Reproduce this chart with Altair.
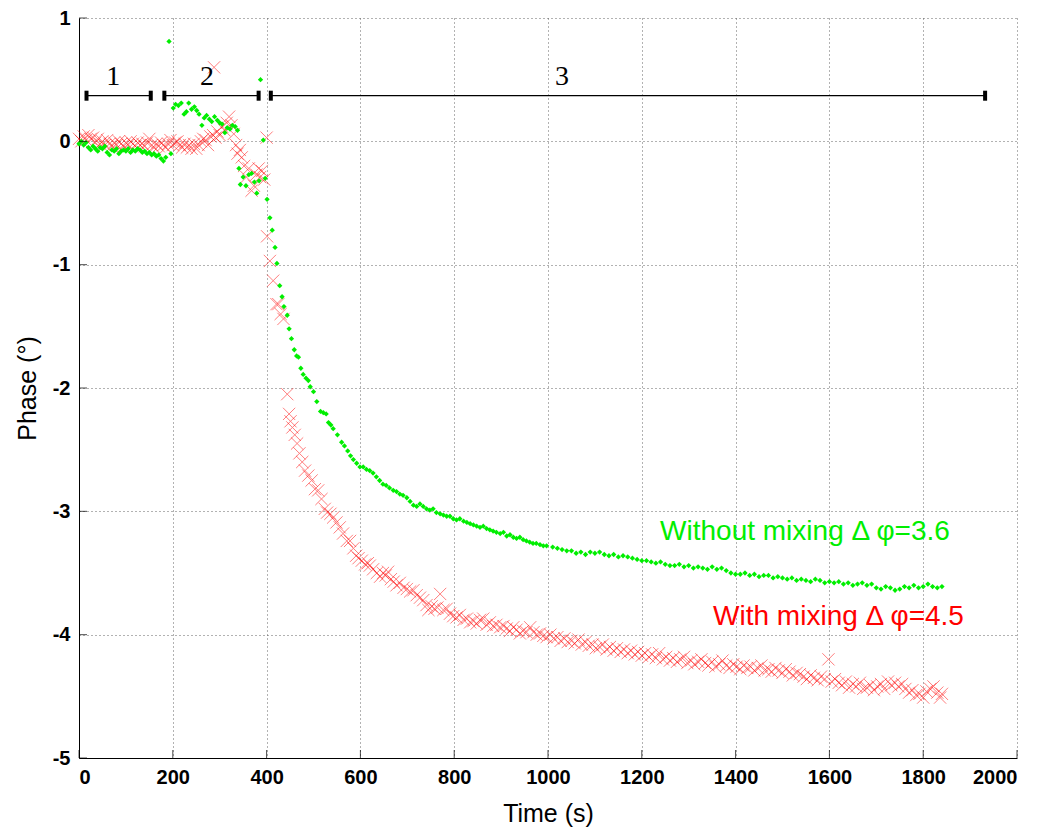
import altair as alt
import pandas as pd

# ---------------- data ----------------
green_t = [0, 5, 10, 15, 20, 25, 30, 35, 40, 45, 50, 55, 60, 65, 70, 75, 80, 85, 90, 95,
           100, 105, 110, 115, 120, 125, 130, 135, 140, 145, 150, 155, 160, 165, 170, 175, 180, 185,
           192, 196,
           201, 206, 212, 218, 224, 229, 234, 240, 246, 251, 256, 262, 267, 272, 278, 283, 289, 295,
           300, 305, 311, 316, 322, 327, 333, 338,
           341, 344, 350, 356, 362, 368, 374, 379, 384, 387, 393, 397,
           401, 407, 412, 418, 422, 428, 433, 437, 444, 448, 453, 459, 464, 468, 473, 478, 484, 489,
           493, 500, 507, 515, 521, 527, 532, 537, 542, 551, 560, 566, 573, 579, 585, 592, 599,
           606, 613, 620, 627, 634, 641, 648, 655, 662, 670, 677, 684, 691, 699, 706, 713, 720,
           727, 734, 741, 748, 755, 762, 770, 777, 784, 791, 798, 805, 812, 820, 827, 834, 841,
           848, 855, 862, 869, 876, 883, 890, 898, 905, 912, 919, 926, 933, 940, 947, 954, 961,
           968, 975, 983, 990, 997,
           1010, 1020, 1030, 1040, 1050, 1060, 1070, 1080, 1090, 1100, 1110, 1120, 1130, 1140,
           1150, 1160, 1170, 1180, 1190, 1200, 1210, 1220, 1230, 1240, 1250, 1260, 1270, 1280,
           1290, 1300, 1310, 1320, 1330, 1340, 1350, 1360, 1370, 1380, 1390, 1400, 1410, 1420,
           1430, 1440, 1450, 1460, 1470, 1480, 1490, 1500, 1510, 1520, 1530, 1540, 1550, 1560,
           1570, 1580, 1590, 1600, 1610, 1620, 1630, 1640, 1650, 1660, 1670, 1680, 1690, 1700,
           1710, 1720, 1730, 1740, 1750, 1760, 1770, 1780, 1790, 1800, 1810, 1820, 1830, 1840]
green_v = [-0.02, 0.00, -0.03, -0.01, -0.05, -0.07, -0.04, -0.06, -0.08, -0.05, -0.06, -0.04,
           -0.09, -0.11, -0.07, -0.08, -0.06, -0.10, -0.08, -0.07,
           -0.08, -0.06, -0.09, -0.07, -0.08, -0.06, -0.07, -0.09, -0.08, -0.10, -0.09, -0.11,
           -0.10, -0.12, -0.11, -0.14, -0.16, -0.13,
           0.81, -0.10,
           0.27, 0.30, 0.29, 0.31, 0.22, 0.24, 0.31, 0.26, 0.28, 0.25, 0.22, 0.13, 0.19, 0.21,
           0.18, 0.16, 0.20, 0.17,
           0.15, 0.14, 0.07, 0.11, 0.10, 0.13, 0.12, 0.09,
           -0.22, -0.35, -0.29, -0.36, -0.27, -0.26, -0.33, -0.42, -0.32, 0.50, 0.01, -0.30,
           -0.47, -0.62, -0.72, -0.86, -0.99, -1.17, -1.26, -1.34, -1.41, -1.52, -1.60, -1.69,
           -1.74, -1.75, -1.84, -1.89, -1.92, -1.94,
           -1.99, -2.03, -2.11, -2.19, -2.20, -2.21, -2.28, -2.30, -2.33, -2.38, -2.44, -2.47,
           -2.51, -2.55, -2.58, -2.61, -2.64,
           -2.64, -2.66, -2.67, -2.69, -2.72, -2.75, -2.78, -2.79, -2.81, -2.83, -2.84, -2.86,
           -2.87, -2.89, -2.92, -2.95, -2.96,
           -2.94, -2.96, -2.98, -2.99, -2.98, -3.01, -3.02, -3.03, -3.04, -3.04, -3.06, -3.07,
           -3.06, -3.08, -3.09, -3.10, -3.11,
           -3.12, -3.13, -3.12, -3.14, -3.15, -3.16, -3.17, -3.18, -3.17, -3.20, -3.19, -3.21,
           -3.22, -3.21, -3.23, -3.24, -3.25,
           -3.26, -3.26, -3.27, -3.28, -3.28,
           -3.29, -3.30, -3.31, -3.32, -3.32, -3.34, -3.33, -3.35, -3.33, -3.34, -3.33, -3.35,
           -3.36, -3.35,
           -3.37, -3.36, -3.37, -3.38, -3.39, -3.40, -3.40, -3.41, -3.42, -3.41, -3.43, -3.44,
           -3.44, -3.43,
           -3.45, -3.44, -3.46, -3.45, -3.46, -3.47, -3.45, -3.47, -3.46, -3.48, -3.50, -3.51,
           -3.51, -3.50,
           -3.52, -3.51, -3.53, -3.52, -3.52, -3.54, -3.53, -3.54, -3.55, -3.54, -3.56, -3.55,
           -3.56, -3.57,
           -3.55, -3.56, -3.58, -3.57, -3.58, -3.57, -3.59, -3.58, -3.60, -3.59, -3.58, -3.60,
           -3.59, -3.62,
           -3.63, -3.61, -3.62, -3.64, -3.63, -3.61, -3.62, -3.60, -3.62, -3.61, -3.59, -3.61,
           -3.62, -3.61]

red_t = [0, 5, 10, 15, 20, 25, 30, 35, 40, 45, 50, 55, 60, 65, 70, 75, 80, 85, 90, 95,
         100, 105, 110, 115, 120, 125, 130, 135, 140, 145, 150, 155, 160, 165, 170, 175, 180, 185,
         190, 195, 200, 205, 210, 215, 220, 225, 230, 235, 240, 245, 250, 255, 260, 265, 270, 275,
         280, 286, 288, 291, 295, 300, 305, 310, 315, 320, 325, 330, 335, 338, 343, 347, 352, 357,
         362, 368, 373, 378, 383, 386, 390, 395, 400,
         401, 407, 414, 421, 425, 430, 436, 444, 448, 451, 455, 460, 465, 470, 476, 482, 489, 496,
         503, 510, 517, 524, 529, 536, 542, 549, 556, 563, 571, 578, 585, 591, 596, 603, 610, 616,
         620, 627, 635, 642, 648, 654, 659, 665, 671, 677, 684, 692, 699, 706, 713, 720, 727, 734,
         741, 745, 752, 758, 764, 770, 777, 784, 791, 798, 805, 812, 820, 827, 834, 841, 848, 855,
         862, 869, 876, 883, 890, 898, 905, 912, 919, 926, 933, 940, 947, 954, 962, 969, 976, 983,
         990, 997, 1005, 1012, 1020, 1027, 1035, 1042, 1050, 1057, 1065, 1072, 1080, 1087, 1095,
         1102, 1110, 1117, 1125, 1132, 1140, 1147, 1155, 1162, 1170, 1177, 1185, 1192, 1200, 1207,
         1215, 1222, 1230, 1237, 1245, 1252, 1260, 1267, 1275, 1282, 1290, 1297, 1305, 1312, 1320,
         1327, 1335, 1342, 1350, 1357, 1365, 1372, 1380, 1387, 1395, 1402, 1410, 1417, 1425, 1432,
         1440, 1447, 1455, 1462, 1470, 1477, 1485, 1492, 1500, 1507, 1515, 1522, 1530, 1537, 1545,
         1552, 1560, 1567, 1575, 1582, 1590, 1598, 1605, 1612, 1620, 1627, 1635, 1642, 1650, 1657,
         1665, 1672, 1680, 1687, 1695, 1702, 1710, 1717, 1725, 1732, 1740, 1747, 1755, 1762, 1770,
         1777, 1785, 1792, 1800, 1807, 1815, 1822, 1830, 1836, 1840]
red_v = [0.02, 0.00, 0.04, 0.01, 0.05, 0.02, 0.03, -0.01, 0.02, -0.02, 0.00, -0.03, 0.01, -0.02,
         -0.04, -0.01, -0.03, 0.00, -0.02, -0.04,
         -0.01, -0.03, 0.00, -0.02, -0.04, -0.01, -0.03, -0.02, -0.04, -0.01, 0.02, -0.03, -0.05,
         -0.02, -0.04, -0.01, -0.03, -0.05,
         -0.02, 0.01, -0.03, -0.01, 0.00, -0.03, -0.05, -0.02, -0.05, -0.03, -0.06, -0.02, -0.06,
         -0.03, 0.00, 0.02, 0.01, -0.03,
         0.04, 0.05, 0.60, 0.03, 0.08, 0.05, 0.12, 0.09, 0.15, 0.20, 0.13, 0.06, -0.03, -0.10,
         -0.07, -0.13, -0.20, -0.29,
         -0.22, -0.40, -0.36, -0.27, -0.22, -0.29, -0.24, -0.31, 0.03,
         -0.77, -0.97, -1.13, -1.32, -1.32, -1.40, -1.44, -2.05, -2.21, -2.27, -2.32, -2.38, -2.45,
         -2.53, -2.60, -2.67, -2.71, -2.75,
         -2.82, -2.83, -2.90, -2.98, -3.01, -3.02, -3.05, -3.09, -3.13, -3.18, -3.24, -3.24, -3.30,
         -3.36, -3.38, -3.40, -3.43, -3.42,
         -3.44, -3.47, -3.50, -3.53, -3.50, -3.52, -3.49, -3.55, -3.57, -3.60, -3.58, -3.62, -3.63,
         -3.65, -3.64, -3.68, -3.70, -3.72,
         -3.76, -3.80, -3.77, -3.79, -3.78, -3.67, -3.80, -3.79, -3.83, -3.85, -3.86, -3.84, -3.88,
         -3.87, -3.90, -3.89, -3.91, -3.88,
         -3.87, -3.92, -3.90, -3.93, -3.92, -3.94, -3.93, -3.95, -3.97, -3.94, -3.96, -3.99, -3.97,
         -3.98, -3.94, -3.98, -4.00, -3.99,
         -4.01, -4.02, -4.00, -4.03, -4.02, -4.05, -4.03, -4.06, -4.05, -4.07, -4.04, -4.08, -4.06,
         -4.09, -4.08,
         -4.11, -4.10, -4.08, -4.12, -4.10, -4.13, -4.11, -4.14, -4.12, -4.15, -4.13, -4.16, -4.14,
         -4.17, -4.15,
         -4.18, -4.16, -4.19, -4.15, -4.20, -4.18, -4.21, -4.19, -4.22, -4.20, -4.18, -4.23, -4.21,
         -4.24, -4.22,
         -4.20, -4.23, -4.25, -4.22, -4.26, -4.24, -4.21, -4.25, -4.27, -4.24, -4.26, -4.28, -4.25,
         -4.27, -4.26,
         -4.29, -4.27, -4.25, -4.29, -4.28, -4.30, -4.27, -4.29, -4.31, -4.28, -4.30, -4.33, -4.31,
         -4.32, -4.34,
         -4.36, -4.33, -4.35, -4.37, -4.34, -4.36, -4.20, -4.38, -4.36, -4.39, -4.41, -4.38, -4.43,
         -4.40, -4.42,
         -4.39, -4.44, -4.43, -4.41, -4.45, -4.42, -4.40, -4.44, -4.38, -4.41, -4.39, -4.42, -4.40,
         -4.44, -4.47,
         -4.45, -4.49, -4.48, -4.51, -4.46, -4.44, -4.42, -4.47, -4.51, -4.48]

seg_start = [16, 182, 409]
seg_end = [153, 383, 1932]
seg_y = [0.37, 0.37, 0.37]
seg_label = ["1", "2", "3"]
seg_label_x = [73, 273, 1030]
seg_label_y = [0.52, 0.52, 0.52]

ann_text = ["Without mixing \u0394 \u03c6=3.6", "With mixing \u0394 \u03c6=4.5"]
ann_x = [1239, 1352]
ann_y = [-3.17, -3.86]
ann_color = ["#00ee00", "#ff0000"]

x_ticks = list(range(0, 2001, 200))
y_ticks = [1, 0, -1, -2, -3, -4, -5]

# ---------------- tables ----------------
green_df = pd.DataFrame({"t": green_t, "v": green_v})
red_df = pd.DataFrame({"t": red_t, "v": red_v})
seg_df = pd.DataFrame({"s": seg_start, "e": seg_end, "y": seg_y})
cap_df = pd.DataFrame({"t": seg_start + seg_end, "y": seg_y + seg_y})
lab_df = pd.DataFrame({"x": seg_label_x, "y": seg_label_y, "label": seg_label})
ann_df = pd.DataFrame({"x": ann_x, "y": ann_y, "text": ann_text, "c": ann_color})
xt_df = pd.DataFrame({"t": x_ticks, "y": [-5] * len(x_ticks)})
yt_df = pd.DataFrame({"t": [0] * len(y_ticks), "y": y_ticks})

xscale = alt.Scale(domain=[0, 2000], nice=False, zero=False)
yscale = alt.Scale(domain=[-5, 1], nice=False, zero=False)

LABEL_FONT = "Liberation Sans"

xaxis = alt.Axis(values=x_ticks, title="Time (s)", grid=True, ticks=False,
                 labelExpr="datum.value + ''",
                 labelFont=LABEL_FONT, labelFontSize=20, labelFontWeight=700,
                 labelColor="black", labelPadding=9,
                 titleFont="Liberation Sans", titleFontSize=25, titleFontWeight="normal",
                 titleColor="black", titlePadding=14,
                 domainColor="black", domainWidth=1,
                 gridColor="#555555", gridDash=[1, 3], gridWidth=1, gridOpacity=0.9)
yaxis = alt.Axis(values=y_ticks, title="Phase (\u00b0)", grid=True, ticks=False,
                 labelExpr="datum.value + ''",
                 labelFont=LABEL_FONT, labelFontSize=20, labelFontWeight=700,
                 labelColor="black", labelPadding=9,
                 titleFont="Liberation Sans", titleFontSize=25, titleFontWeight="normal",
                 titleColor="black", titlePadding=12,
                 domainColor="black", domainWidth=1,
                 gridColor="#555555", gridDash=[1, 3], gridWidth=1, gridOpacity=0.9)

red_layer = alt.Chart(red_df).mark_point(
    shape="M-1,-1L1,1M-1,1L1,-1", filled=False, strokeWidth=1,
    color="#ff0000", opacity=0.5, size=150
).encode(x=alt.X("t:Q", scale=xscale, axis=xaxis),
         y=alt.Y("v:Q", scale=yscale, axis=yaxis))

green_layer = alt.Chart(green_df).mark_point(
    shape="diamond", filled=True, size=28, color="#00ee00", opacity=1, strokeWidth=0
).encode(x=alt.X("t:Q", scale=xscale), y=alt.Y("v:Q", scale=yscale))

seg_layer = alt.Chart(seg_df).mark_rule(color="black", strokeWidth=1.3).encode(
    x=alt.X("s:Q", scale=xscale), x2="e:Q", y=alt.Y("y:Q", scale=yscale))

cap_layer = alt.Chart(cap_df).mark_point(
    shape="M-0.4,-1L0.4,-1L0.4,1L-0.4,1Z", filled=True, color="black", opacity=1, size=100
).encode(x=alt.X("t:Q", scale=xscale), y=alt.Y("y:Q", scale=yscale))

lab_layer = alt.Chart(lab_df).mark_text(
    font="Liberation Serif", fontSize=28, color="black", align="center", baseline="middle"
).encode(x=alt.X("x:Q", scale=xscale), y=alt.Y("y:Q", scale=yscale), text="label:N")

ann_layer = alt.Chart(ann_df).mark_text(
    font="Liberation Sans", fontSize=28, align="left", baseline="middle"
).encode(x=alt.X("x:Q", scale=xscale), y=alt.Y("y:Q", scale=yscale), text="text:N",
         color=alt.Color("c:N", scale=None))

xtick_layer = alt.Chart(xt_df).mark_tick(
    orient="vertical", size=8, thickness=1, color="black", yOffset=-4
).encode(x=alt.X("t:Q", scale=xscale), y=alt.Y("y:Q", scale=yscale))

ytick_layer = alt.Chart(yt_df).mark_tick(
    orient="horizontal", size=8, thickness=1, color="black", xOffset=4
).encode(x=alt.X("t:Q", scale=xscale), y=alt.Y("y:Q", scale=yscale))

chart = alt.layer(red_layer, green_layer, seg_layer, cap_layer, lab_layer, ann_layer,
                  xtick_layer, ytick_layer).properties(
    width=938, height=740,
    padding={"left": 79, "top": 18, "right": 34, "bottom": 76},
    autosize=alt.AutoSizeParams(type="none"),
    background="white"
).configure_view(stroke=None)

chart.save("out.html", embed_options={"renderer": "svg", "actions": False})
